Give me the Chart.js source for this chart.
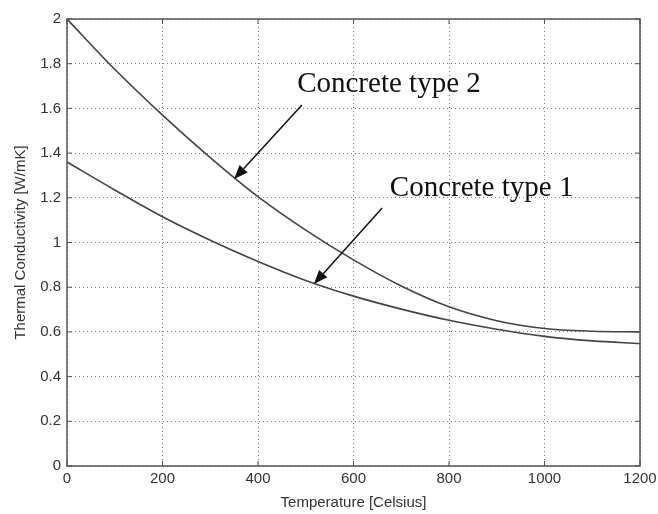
<!DOCTYPE html>
<html>
<head>
<meta charset="utf-8">
<script src="https://cdn.jsdelivr.net/npm/chart.js@4/dist/chart.umd.min.js"></script>
<style>
  html, body { margin: 0; padding: 0; background: #fff; }
</style>
</head>
<body>
<canvas id="myChart" width="658" height="514"></canvas>
<script>
// Valores
const temperaturas = [0, 100, 200, 300, 400, 500, 600, 700, 800, 900, 1000, 1100, 1200];
const concreto1 = [1.36, 1.235, 1.115, 1.01, 0.915, 0.83, 0.76, 0.702, 0.652, 0.612, 0.58, 0.56, 0.548];
const concreto2 = [2.0, 1.775, 1.57, 1.38, 1.205, 1.055, 0.922, 0.805, 0.712, 0.65, 0.615, 0.603, 0.6];

// Rótulos com setas (coordenadas em unidades do gráfico)
const rotulos = [
  { texto: "Concrete type 2", x: 482, y: 1.673, de: [492, 1.615], ate: [350, 1.284] },
  { texto: "Concrete type 1", x: 676, y: 1.208, de: [660, 1.154], ate: [517, 0.814] },
];

const corLinha = "#444";
const corTexto = "#333";

function pontos(valores) {
  return temperaturas.map((t, i) => ({ x: t, y: valores[i] }));
}

// Moldura, marcas internas e anotações
const molduraPlugin = {
  id: "moldura",
  afterDatasetsDraw(chart) {
    const { ctx, chartArea: a, scales } = chart;
    ctx.save();
    ctx.strokeStyle = "#555";
    ctx.lineWidth = 1.5;
    ctx.strokeRect(a.left, a.top, a.right - a.left, a.bottom - a.top);
    ctx.lineWidth = 1;
    ctx.beginPath();
    scales.x.ticks.forEach((t) => {
      const px = scales.x.getPixelForValue(t.value);
      ctx.moveTo(px, a.bottom); ctx.lineTo(px, a.bottom - 5);
      ctx.moveTo(px, a.top); ctx.lineTo(px, a.top + 5);
    });
    scales.y.ticks.forEach((t) => {
      const py = scales.y.getPixelForValue(t.value);
      ctx.moveTo(a.left, py); ctx.lineTo(a.left + 5, py);
      ctx.moveTo(a.right, py); ctx.lineTo(a.right - 5, py);
    });
    ctx.stroke();

    // anotações
    rotulos.forEach((r) => {
      const tx = scales.x.getPixelForValue(r.x);
      const ty = scales.y.getPixelForValue(r.y);
      ctx.fillStyle = "#111";
      ctx.font = "29px 'Liberation Serif', 'Times New Roman', serif";
      ctx.textBaseline = "alphabetic";
      ctx.textAlign = "left";
      ctx.fillText(r.texto, tx, ty);

      const x1 = scales.x.getPixelForValue(r.de[0]);
      const y1 = scales.y.getPixelForValue(r.de[1]);
      const x2 = scales.x.getPixelForValue(r.ate[0]);
      const y2 = scales.y.getPixelForValue(r.ate[1]);
      const ang = Math.atan2(y2 - y1, x2 - x1);
      const comp = 14, larg = 5.5;
      const bx = x2 - comp * Math.cos(ang);
      const by = y2 - comp * Math.sin(ang);
      ctx.strokeStyle = "#111";
      ctx.lineWidth = 1.5;
      ctx.beginPath();
      ctx.moveTo(x1, y1);
      ctx.lineTo(bx, by);
      ctx.stroke();
      ctx.beginPath();
      ctx.moveTo(x2, y2);
      ctx.lineTo(bx + larg * Math.sin(ang), by - larg * Math.cos(ang));
      ctx.lineTo(bx - larg * Math.sin(ang), by + larg * Math.cos(ang));
      ctx.closePath();
      ctx.fill();
    });
    ctx.restore();
  },
};

const config = {
  type: "line",
  data: {
    datasets: [
      {
        label: "Concrete type 1",
        data: pontos(concreto1),
        borderColor: corLinha,
        borderWidth: 1.6,
        pointRadius: 0,
        fill: false,
        cubicInterpolationMode: "monotone",
      },
      {
        label: "Concrete type 2",
        data: pontos(concreto2),
        borderColor: corLinha,
        borderWidth: 1.6,
        pointRadius: 0,
        fill: false,
        cubicInterpolationMode: "monotone",
      },
    ],
  },
  options: {
    responsive: false,
    animation: false,
    layout: { padding: { top: 19, right: 0, left: 0, bottom: 0 } },
    plugins: {
      legend: { display: false },
      tooltip: { enabled: false },
    },
    scales: {
      x: {
        type: "linear",
        position: "bottom",
        min: 0,
        max: 1200,
        afterFit: (s) => { s.height = 48; s.paddingRight = 18; },
        ticks: {
          stepSize: 200,
          padding: 4,
          color: corTexto,
          font: { family: "'Liberation Sans', Arial", size: 15 },
          callback: (v) => String(v),
        },
        grid: { color: "rgba(0,0,0,0.5)", drawTicks: false },
        border: { display: false, dash: [1, 3] },
        title: {
          display: true,
          text: "Temperature [Celsius]",
          color: corTexto,
          font: { family: "'Liberation Sans', Arial", size: 15 },
          padding: { top: 0, bottom: 2 },
        },
      },
      y: {
        min: 0,
        max: 2,
        afterFit: (s) => { s.width = 67; },
        ticks: {
          stepSize: 0.2,
          padding: 6,
          color: corTexto,
          font: { family: "'Liberation Sans', Arial", size: 15 },
          callback: (v) => String(Math.round(v * 10) / 10),
        },
        grid: { color: "rgba(0,0,0,0.5)", drawTicks: false },
        border: { display: false, dash: [1, 3] },
        title: {
          display: true,
          text: "Thermal Conductivity [W/mK]",
          color: corTexto,
          font: { family: "'Liberation Sans', Arial", size: 15 },
          padding: { top: 12, bottom: 0 },
        },
      },
    },
  },
  plugins: [molduraPlugin],
};

const ctx = document.getElementById("myChart").getContext("2d");
new Chart(ctx, config);
</script>
</body>
</html>
